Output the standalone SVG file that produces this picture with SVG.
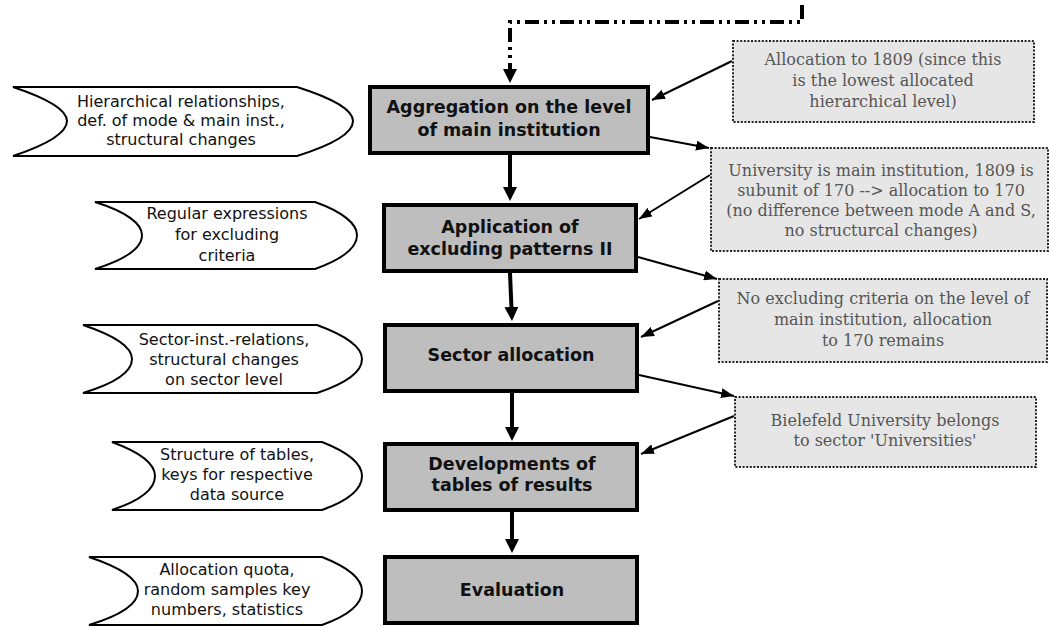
<svg xmlns="http://www.w3.org/2000/svg" width="1049" height="626" viewBox="0 0 1049 626">
<defs>
<style>
.main{fill:#bebebe;stroke:#000;stroke-width:4}
.mt{font-family:"DejaVu Sans",sans-serif;font-weight:bold;font-size:17.5px;fill:#111;text-anchor:middle}
.tag{fill:#fff;stroke:#000;stroke-width:2}
.tt{font-family:"DejaVu Sans",sans-serif;font-size:16px;fill:#111;text-anchor:middle}
.note{fill:#e6e6e6;stroke:#222;stroke-width:2;stroke-dasharray:2,1.6}
.nt{font-family:"DejaVu Serif",serif;font-size:16px;fill:#555;text-anchor:middle}
.flow{fill:none;stroke:#000;stroke-width:4}
.thin{fill:none;stroke:#000;stroke-width:2}
</style>
<marker id="big" viewBox="0 0 14 14" markerWidth="14" markerHeight="14" refX="4" refY="7" orient="auto" markerUnits="userSpaceOnUse"><path d="M0,0 L14,7 L0,14 Z" fill="#000"/></marker>
<marker id="small" viewBox="0 0 13 10" markerWidth="13" markerHeight="10" refX="13" refY="5" orient="auto" markerUnits="userSpaceOnUse"><path d="M0,0 L13,5 L0,10 Z" fill="#000"/></marker>
</defs>

<g id="tag1"><path class="tag" d="M13,87 H297 C332,98 353,110 353,121 C353,133 332,145 297,156 H13 C46,145 67,133 67,121 C67,110 46,98 13,87 Z"/>
<text class="tt" x="181" y="107">Hierarchical relationships,</text><text class="tt" x="181" y="126">def. of mode &amp; main inst.,</text><text class="tt" x="181" y="145">structural changes</text></g>
<g id="tag2"><path class="tag" d="M95,202 H315 C343,212 357,224 357,235 C357,247 343,259 315,269 H95 C127,259 142,247 142,235 C142,224 127,212 95,202 Z"/>
<text class="tt" x="227" y="219">Regular expressions</text><text class="tt" x="227" y="240">for excluding</text><text class="tt" x="227" y="261">criteria</text></g>
<g id="tag3"><path class="tag" d="M83,325 H317 C347,336 362,348 362,359 C362,371 347,383 317,393 H83 C116,383 132,371 132,359 C132,348 116,336 83,325 Z"/>
<text class="tt" x="224" y="345">Sector-inst.-relations,</text><text class="tt" x="224" y="365">structural changes</text><text class="tt" x="224" y="385">on sector level</text></g>
<g id="tag4"><path class="tag" d="M112,442 H322 C350,453 362,465 362,476 C362,488 350,500 322,510 H112 C142,500 155,488 155,476 C155,465 142,453 112,442 Z"/>
<text class="tt" x="237" y="460">Structure of tables,</text><text class="tt" x="237" y="480">keys for respective</text><text class="tt" x="237" y="500">data source</text></g>
<g id="tag5"><path class="tag" d="M89,557 H322 C350,568 362,580 362,591 C362,603 350,615 322,625 H89 C122,615 138,603 138,591 C138,580 122,568 89,557 Z"/>
<text class="tt" x="227" y="575">Allocation quota,</text><text class="tt" x="227" y="595">random samples key</text><text class="tt" x="227" y="615">numbers, statistics</text></g>

<g id="aggregation"><rect class="main" x="370" y="87" width="278" height="66"/>
<text class="mt" x="509" y="113">Aggregation on the level</text><text class="mt" x="509" y="136">of main institution</text></g>
<g id="application"><rect class="main" x="384" y="205" width="252" height="66"/>
<text class="mt" x="510" y="233">Application of</text><text class="mt" x="510" y="255">excluding patterns II</text></g>
<g id="sector"><rect class="main" x="385" y="325" width="252" height="66"/>
<text class="mt" x="511" y="361">Sector allocation</text></g>
<g id="developments"><rect class="main" x="385" y="444" width="252" height="66"/>
<text class="mt" x="512" y="470">Developments of</text><text class="mt" x="512" y="491">tables of results</text></g>
<g id="evaluation"><rect class="main" x="385" y="557" width="252" height="66"/>
<text class="mt" x="512" y="596">Evaluation</text></g>

<g id="note1"><rect class="note" x="733" y="41" width="301" height="81"/>
<text class="nt" x="883" y="65">Allocation to 1809 (since this</text><text class="nt" x="883" y="86">is the lowest allocated</text><text class="nt" x="883" y="107">hierarchical level)</text></g>
<g id="note2"><rect class="note" x="711" y="148" width="337" height="103"/>
<text class="nt" x="881" y="176">University is main institution, 1809 is</text><text class="nt" x="881" y="196">subunit of 170 --&gt; allocation to 170</text><text class="nt" x="881" y="216">(no difference between mode A and S,</text><text class="nt" x="881" y="236">no structurcal changes)</text></g>
<g id="note3"><rect class="note" x="719" y="279" width="328" height="83"/>
<text class="nt" x="883" y="304">No excluding criteria on the level of</text><text class="nt" x="883" y="325">main institution, allocation</text><text class="nt" x="883" y="346">to 170 remains</text></g>
<g id="note4"><rect class="note" x="735" y="397" width="301" height="70"/>
<text class="nt" x="885" y="426">Bielefeld University belongs</text><text class="nt" x="885" y="446">to sector 'Universities'</text></g>

<g id="connectors">
<path class="flow" d="M802,5 V22 H510 V73" stroke-dasharray="14,5,3,5,3,5" marker-end="url(#big)"/>
<path class="flow" d="M510,155 V191" marker-end="url(#big)"/>
<path class="flow" d="M510,273 L511.6,311" marker-end="url(#big)"/>
<path class="flow" d="M512,393 V431" marker-end="url(#big)"/>
<path class="flow" d="M512,512 V543" marker-end="url(#big)"/>
<path class="thin" d="M732,61 L652,100" marker-end="url(#small)"/>
<path class="thin" d="M650,137 L709,148" marker-end="url(#small)"/>
<path class="thin" d="M710,175 L639,219" marker-end="url(#small)"/>
<path class="thin" d="M638,257 L717,279" marker-end="url(#small)"/>
<path class="thin" d="M718,301 L641,337" marker-end="url(#small)"/>
<path class="thin" d="M639,375 L734,396" marker-end="url(#small)"/>
<path class="thin" d="M734,416 L641,454" marker-end="url(#small)"/>
</g>
</svg>
